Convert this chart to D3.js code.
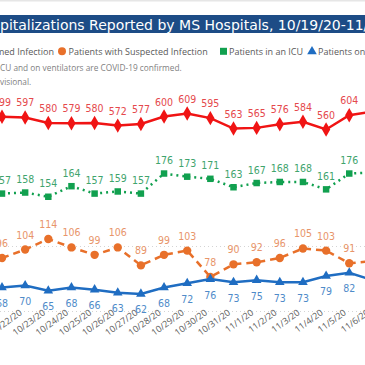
<!DOCTYPE html>
<html>
<head>
<meta charset="utf-8">
<script src="https://cdn.jsdelivr.net/npm/d3@7"></script>
<style>
  body { margin: 0; background: #fff; }
  svg { display: block; }
  .lbl { font-family: "Liberation Sans Narrow", "DejaVu Sans Condensed", sans-serif; font-size: 10.5px; text-anchor: middle; }
</style>
</head>
<body>
<div id="chart"></div>
<script>
var dates = ["10/21/20","10/22/20","10/23/20","10/24/20","10/25/20","10/26/20","10/27/20","10/28/20","10/29/20",
             "10/30/20","10/31/20","11/1/20","11/2/20","11/3/20","11/4/20","11/5/20","11/6/20"];
var confirmed = [599,597,580,579,580,572,577,600,609,595,563,565,576,584,560,604,615];
var suspected = [96,104,114,106,99,106,89,99,103,78,90,92,96,105,103,91,93];
var icu = [157,158,154,164,157,159,157,176,173,171,163,167,168,168,161,176,177];
var vent = [68,70,65,68,66,63,62,68,72,76,73,75,73,73,79,82,75];
var gridTicks = [0, 200];

var title = "COVID-19 Hospitalizations Reported by MS Hospitals, 10/19/20-11/8/20";

var svg = d3.select("#chart").append("svg")
    .attr("width", 365)
    .attr("height", 365);

svg.append("rect").attr("width", 365).attr("height", 365).attr("fill", "#fff");
svg.append("rect").attr("width", 365).attr("height", 1.5).attr("fill", "#e6e6e6");

// title band
svg.append("rect").attr("x", 0).attr("y", 15).attr("width", 365).attr("height", 18).attr("fill", "#1d4c86");
var t = svg.append("text")
    .attr("y", 29.5)
    .attr("fill", "#fff")
    .style("font-family", "DejaVu Sans")
    .style("font-size", "14px")
    .text(title);
t.attr("x", -t.node().getSubStringLength(0, title.indexOf("pitalizations")));

// legend
var legendFont = function(sel) {
  return sel.style("font-family", "'Open Sans', sans-serif").style("font-size", "9px").attr("fill", "#595959");
};
legendFont(svg.append("text").attr("x", 54).attr("y", 54.5).attr("text-anchor", "end").text("Patients with Confirmed Infection"));
svg.append("circle").attr("cx", 62).attr("cy", 51.3).attr("r", 4).attr("fill", "#e8702a");
legendFont(svg.append("text").attr("x", 68.5).attr("y", 54.5).text("Patients with Suspected Infection"));
svg.append("rect").attr("x", 220).attr("y", 47.8).attr("width", 7).attr("height", 7).attr("fill", "#11a04f");
legendFont(svg.append("text").attr("x", 229).attr("y", 54.5).text("Patients in an ICU"));
svg.append("path").attr("d", d3.symbol(d3.symbolTriangle, 40)()).attr("transform", "translate(312,51.5)").attr("fill", "#1f6dc2");
legendFont(svg.append("text").attr("x", 318).attr("y", 54.5).text("Patients on Ventilators"));

// notes
var note1 = "Patients in an ICU and on ventilators are COVID-19 confirmed.";
var note2 = "Data are provisional.";
var n1 = svg.append("text").attr("y", 71).attr("fill", "#7f7f7f")
    .style("font-family", "'Open Sans', sans-serif").style("font-size", "8.3px").text(note1);
n1.attr("x", -n1.node().getSubStringLength(0, note1.indexOf("CU and")));
var n2 = svg.append("text").attr("y", 85).attr("fill", "#7f7f7f")
    .style("font-family", "'Open Sans', sans-serif").style("font-size", "8.3px").text(note2);
n2.attr("x", -n2.node().getSubStringLength(0, note2.indexOf("visional")));

// scales
var x = d3.scalePoint().domain(dates).range([2, 2 + 23.15 * (dates.length - 1)]);
var yConf = d3.scaleLinear().domain([0, 600]).range([311.5, 116.5]);
var y = d3.scaleLinear().domain([60, 180]).range([296, 169.3]);

// gridlines
svg.append("g").selectAll("line")
    .data(gridTicks)
  .enter().append("line")
    .attr("x1", 0).attr("x2", 365)
    .attr("y1", function(d) { return yConf(d); })
    .attr("y2", function(d) { return yConf(d); })
    .attr("stroke", "#d4d4d4")
    .attr("stroke-width", 1)
    .attr("stroke-dasharray", "1,3");

// x axis labels
var xAxis = svg.append("g")
    .attr("transform", "translate(0,310)")
    .call(d3.axisBottom(x).tickSize(0));
xAxis.select(".domain").remove();
xAxis.selectAll("text")
    .attr("fill", "#595959")
    .style("font-family", "'Open Sans', sans-serif")
    .style("font-size", "9px")
    .attr("text-anchor", "end")
    .attr("dy", "0")
    .attr("y", 0)
    .attr("x", 0)
    .attr("transform", "translate(-3,4) rotate(-36)");

function series(values, scale, color, dash, symbol, symSize, labelColor, labelDy) {
  var pts = values.map(function(v, i) { return {d: dates[i], v: v}; });
  var line = d3.line()
      .x(function(p) { return x(p.d); })
      .y(function(p) { return scale(p.v); });
  var g = svg.append("g");
  g.append("path")
      .datum(pts)
      .attr("d", line)
      .attr("fill", "none")
      .attr("stroke", color)
      .attr("stroke-width", 2.5)
      .attr("stroke-dasharray", dash);
  g.selectAll(".m")
      .data(pts)
    .enter().append("path")
      .attr("class", "m")
      .attr("d", d3.symbol(symbol, symSize)())
      .attr("transform", function(p) { return "translate(" + x(p.d) + "," + scale(p.v) + ")"; })
      .attr("fill", color);
  // last point sits off the visible area, its label is not shown
  g.selectAll(".lbl")
      .data(pts.slice(0, -1))
    .enter().append("text")
      .attr("class", "lbl")
      .attr("x", function(p) { return x(p.d); })
      .attr("y", function(p) { return scale(p.v) + labelDy; })
      .attr("fill", labelColor)
      .text(function(p) { return p.v; });
}

series(icu, y, "#11a04f", "2,4", d3.symbolSquare, 42, "#3fa46d", -9.5);
series(suspected, y, "#e8702a", "7,5", d3.symbolCircle, 55, "#e8956a", -11);
series(vent, y, "#1f6dc2", null, d3.symbolTriangle, 40, "#4f8bc9", 19.5);
series(confirmed, yConf, "#f01414", null, d3.symbolDiamond, 60, "#e5484c", -11);
</script>
</body>
</html>
